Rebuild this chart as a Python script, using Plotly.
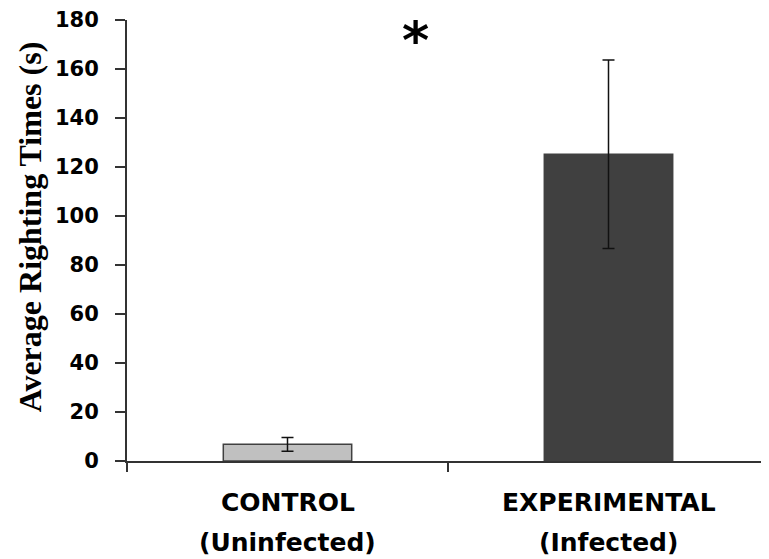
import plotly.graph_objects as go

groups = ["CONTROL", "EXPERIMENTAL"]
subtitles = ["(Uninfected)", "(Infected)"]
means = [6.8, 125.2]
errors = [2.8, 38.5]
bar_colors = ["#c0c0c0", "#404040"]

fig = go.Figure()

fig.add_trace(go.Bar(
    x=groups, y=means, width=0.4,
    marker=dict(color=bar_colors, line=dict(color="#404040", width=1.5)),
    error_y=dict(type="data", array=errors, visible=True,
                 color="#111111", thickness=1.5, width=6),
    showlegend=False))

label_font = dict(family="DejaVu Sans", size=25, color="black")

# category labels as two lines, bold
annotations = []
for g, s in zip(groups, subtitles):
    annotations.append(dict(x=g, y=0, xref="x", yref="y", yshift=-41,
                            text="<b>%s</b>" % g, showarrow=False, font=label_font))
    annotations.append(dict(x=g, y=0, xref="x", yref="y", yshift=-81,
                            text="<b>%s</b>" % s, showarrow=False, font=label_font))

# significance marker
annotations.append(dict(x=0.4, y=1.0, xref="x", yref="paper", yshift=12,
                        xanchor="center", yanchor="top", text="<b>*</b>",
                        showarrow=False,
                        font=dict(family="DejaVu Sans", size=52, color="black")))

# y axis title
annotations.append(dict(x=-0.151, y=0.53, xref="paper", yref="paper",
                        xanchor="center", yanchor="middle", borderpad=0,
                        text="<b>Average Righting Times (s)</b>", textangle=-90,
                        showarrow=False,
                        font=dict(family="Liberation Serif", size=32, color="black")))

# page body has an 8px margin, so the figure is a bit smaller than the window
fig.update_layout(
    width=761, height=551,
    margin=dict(l=119, r=0, t=5, b=98),
    plot_bgcolor="white", paper_bgcolor="white",
    annotations=annotations,
    xaxis=dict(showticklabels=False, showline=True, linecolor="#333333", linewidth=2,
               ticks="outside", tickson="boundaries", ticklen=9, tickcolor="#333333",
               tickwidth=2, showgrid=False, zeroline=False),
    yaxis=dict(range=[0, 180], dtick=20, showline=True, linecolor="#333333", linewidth=2,
               ticks="outside", ticklen=10, tickcolor="#333333", tickwidth=2,
               showgrid=False, zeroline=False, ticklabeloverflow="allow",
               tickfont=dict(family="DejaVu Sans", size=21, color="black", weight="bold"),
               ticklabelstandoff=12),
)

fig.write_html("out.html")
